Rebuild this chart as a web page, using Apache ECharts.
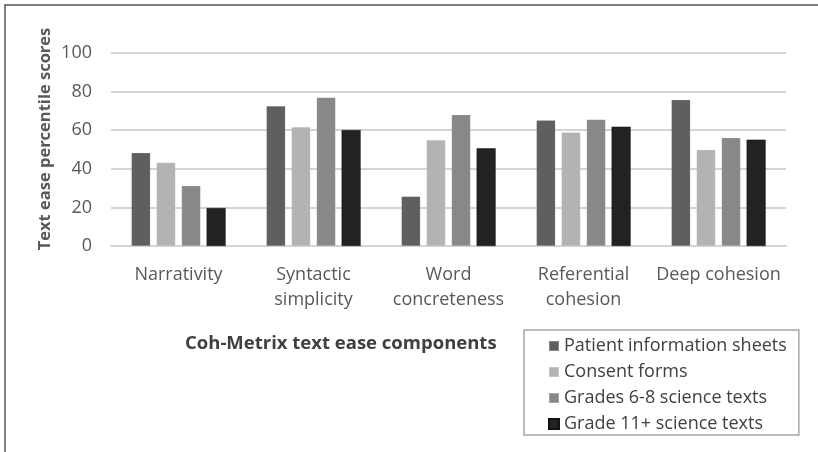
<!DOCTYPE html>
<html><head><meta charset="utf-8">
<script src="https://cdn.jsdelivr.net/npm/echarts@6/dist/echarts.min.js"></script>
<style>html,body{margin:0;padding:0;background:#fff}#c{width:818px;height:452px}</style>
</head><body><div id="c"></div>
<script>
const categories = ['Narrativity', 'Syntactic\nsimplicity', 'Word\nconcreteness', 'Referential\ncohesion', 'Deep cohesion'];
const seriesNames = ['Patient information sheets', 'Consent forms', 'Grades 6-8 science texts', 'Grade 11+ science texts'];
const patientInfo = [48.3, 72.5, 25.7, 65.1, 75.8];
const consentForms = [43.2, 61.7, 54.9, 58.9, 49.9];
const grades68 = [31.2, 77.0, 68.0, 65.6, 56.1];
const grade11 = [19.7, 60.1, 50.6, 61.8, 55.1];
const yTicks = [0, 20, 40, 60, 80, 100];
const colors = ['#5f5f5f', '#b3b3b3', '#888888', '#222222'];
const values = [patientInfo, consentForms, grades68, grade11];
const font = 'Open Sans';

const chart = echarts.init(document.getElementById('c'));
chart.setOption({
  animation: false,
  textStyle: {fontFamily: font},
  grid: {left: 111, right: 32, top: 53, bottom: 206, containLabel: false},
  title: {
    text: 'Coh-Metrix text ease components',
    left: 180, top: 329,
    textStyle: {fontFamily: font, fontSize: 18.5, fontWeight: 'bold', color: '#404040'}
  },
  legend: {
    orient: 'vertical', left: 524, top: 330,
    data: seriesNames,
    icon: 'rect', itemWidth: 10, itemHeight: 10, itemGap: 6,
    padding: [6, 12, 1, 24],
    borderColor: '#a6a6a6', borderWidth: 1.5,
    textStyle: {fontFamily: font, fontSize: 18, lineHeight: 20, color: '#404040'}
  },
  xAxis: {
    type: 'category', data: categories,
    axisLine: {lineStyle: {color: '#d4d4d4', width: 2}},
    axisTick: {show: false},
    axisLabel: {fontFamily: font, fontSize: 18, color: '#595959', margin: 16, lineHeight: 25, interval: 0}
  },
  yAxis: {
    type: 'value', min: yTicks[0], max: yTicks[yTicks.length - 1], interval: 20,
    axisLine: {show: false}, axisTick: {show: false},
    splitLine: {lineStyle: {color: '#d4d4d4', width: 2}},
    axisLabel: {fontFamily: font, fontSize: 18, color: '#595959', margin: 19}
  },
  series: seriesNames.map((n, i) => ({
    name: n, type: 'bar', data: values[i],
    barWidth: 19, barGap: '32%', barCategoryGap: '30%',
    itemStyle: {color: colors[i], borderColor: i === 3 ? '#111' : 'rgba(255,255,255,0.25)', borderWidth: 0.5}
  })),
  graphic: [{
    type: 'rect', shape: {x: 5, y: 5, width: 900, height: 600},
    style: {fill: 'none', stroke: '#555', lineWidth: 1.5}, z: 100
  }, {
    type: 'text', x: 45, y: 139, rotation: Math.PI / 2,
    style: {text: 'Text ease percentile scores', fontFamily: font, fontSize: 16.5, fontWeight: 'bold',
      fill: '#595959', align: 'center', verticalAlign: 'middle'}
  }]
});
</script></body></html>
